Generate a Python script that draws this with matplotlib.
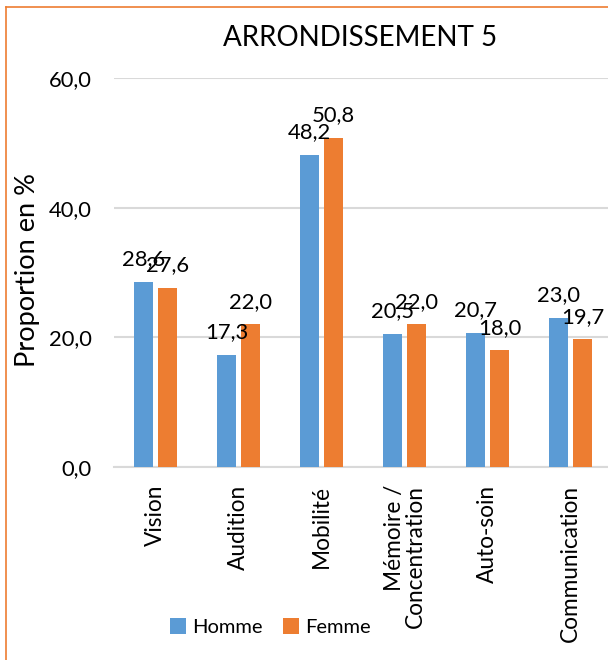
import matplotlib
matplotlib.use("Agg")
import matplotlib.pyplot as plt
import numpy as np
from matplotlib.lines import Line2D

categories = ["Vision", "Audition", "Mobilité", "Mémoire /\nConcentration", "Auto-soin", "Communication"]
homme = [28.6, 17.3, 48.2, 20.5, 20.7, 23.0]
femme = [27.6, 22.0, 50.8, 22.0, 18.0, 19.7]
yticks = [0, 20, 40, 60]

plt.rcParams['font.family'] = ['Lato', 'DejaVu Sans']
W, H = 608, 660
fig = plt.figure(figsize=(W/100, H/100), dpi=100)
ax = fig.add_axes([114/W, 1-467/H, (612-114)/W, (467-78)/H])

x = np.arange(len(categories))
bw = 0.222
off = 0.145
blue = "#5B9BD5"
orange = "#ED7D31"
b1 = ax.bar(x - off, homme, bw, color=blue, label="Homme", zorder=3)
b2 = ax.bar(x + off, femme, bw, color=orange, label="Femme", zorder=3)

fs = 15.8
for bars, vals in ((b1, homme), (b2, femme)):
    for r, v in zip(bars, vals):
        ax.annotate(f"{v:.1f}".replace(".", ","), (r.get_x() + r.get_width()/2, v),
                    xytext=(0, 12), textcoords="offset points",
                    ha="center", va="baseline", fontsize=fs, color="#000000", zorder=4)

ax.set_xlim(-0.5, len(categories) - 0.5)
ax.set_ylim(0, 60)
ax.set_yticks(yticks)
ax.set_yticklabels([f"{t:.1f}".replace(".", ",") for t in yticks], fontsize=fs)
ax.yaxis.grid(True, color="#D9D9D9", linewidth=1.5, zorder=0)
ax.set_axisbelow(True)
ax.set_xticks(x)
ax.set_xticklabels(categories, rotation=90, fontsize=fs + 0.5, va="top", ha="center",
                   multialignment="right", linespacing=1.0)
ax.tick_params(axis="both", length=0)
ax.tick_params(axis="x", pad=13)
ax.tick_params(axis="y", pad=16)
for s in ("top", "right", "left"):
    ax.spines[s].set_visible(False)
ax.spines["bottom"].set_color("#D9D9D9")
ax.spines["bottom"].set_linewidth(1.5)
fig.text(28/W, 1 - 270/H, "Proportion en %", rotation=90, ha="center", va="center", fontsize=19.5)

fig.text(360/W, 1 - 38/H, "ARRONDISSEMENT 5", ha="center", va="center", fontsize=20)

fig.legend(handles=[b1, b2], labels=["Homme", "Femme"], loc="center",
           bbox_to_anchor=(270/W, 1 - 627/H), ncol=2, frameon=False, fontsize=14.5,
           handlelength=0.8, handleheight=0.8, handletextpad=0.3, columnspacing=1.0,
           borderpad=0, borderaxespad=0)

# chart border (orange, left and top)
fig.add_artist(Line2D([6/W, 6/W], [0, 1 - 7/H], transform=fig.transFigure, color=orange, linewidth=1.2))
fig.add_artist(Line2D([6/W, 1], [1 - 7/H, 1 - 7/H], transform=fig.transFigure, color=orange, linewidth=1.2))

fig.savefig("out.png", dpi=100)
